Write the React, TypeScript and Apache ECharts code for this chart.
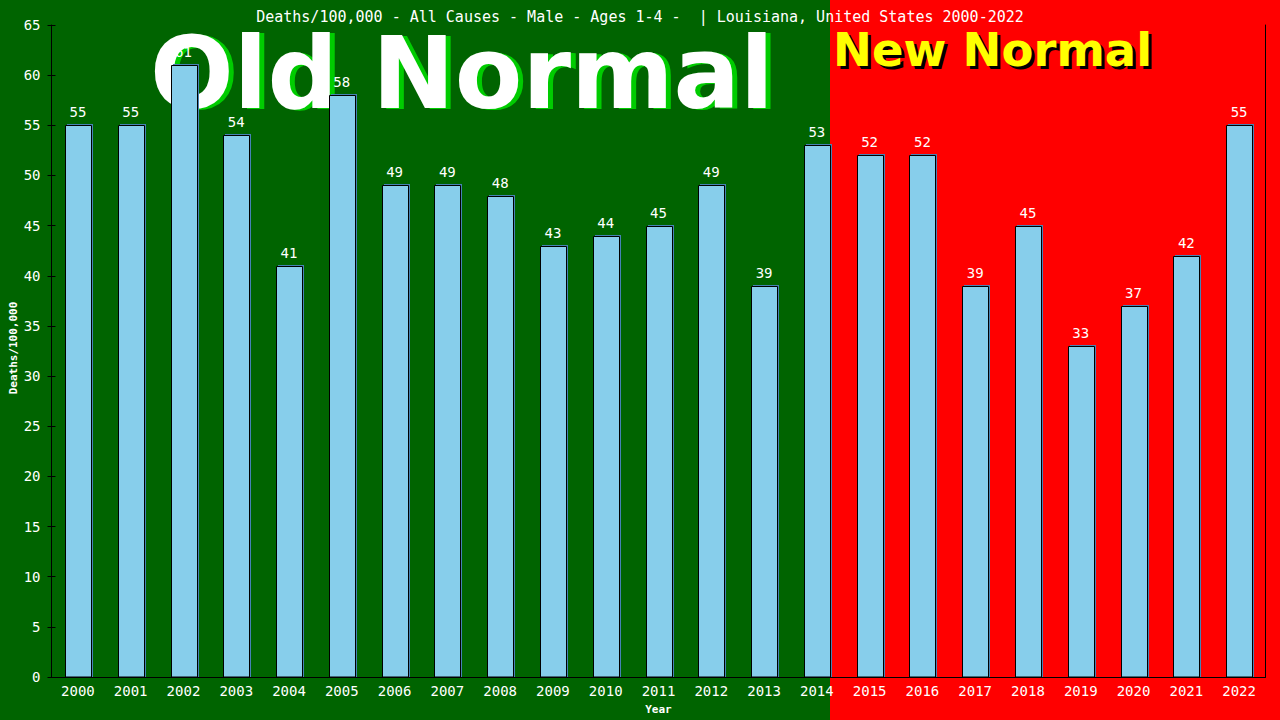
import React, { useEffect, useRef } from "react";
import * as echarts from "echarts";

const years = ["2000","2001","2002","2003","2004","2005","2006","2007","2008","2009","2010","2011","2012","2013","2014","2015","2016","2017","2018","2019","2020","2021","2022"];
const deaths = [55, 55, 61, 54, 41, 58, 49, 49, 48, 43, 44, 45, 49, 39, 53, 52, 52, 39, 45, 33, 37, 42, 55];
const titleText = "Deaths/100,000 - All Causes - Male - Ages 1-4 -  | Louisiana, United States 2000-2022";
const yAxisTitle = "Deaths/100,000";
const yMin = 0;
const yMax = 65;
const yStep = 5;

const MONO = "'DejaVu Sans Mono', 'Liberation Mono', monospace";
const BIG = "'DejaVu Sans', Verdana, sans-serif";

export default function App() {
  const ref = useRef<HTMLDivElement>(null);
  useEffect(() => {
    if (!ref.current) return;
    const chart = echarts.init(ref.current, null, { renderer: "svg" });
    const data = deaths.map((v, i) => [i, v]);
    chart.setOption({
      animation: false,
      backgroundColor: "#ff0000",
      title: {
        text: titleText,
        left: "center",
        top: 4,
        textStyle: { color: "#ffffff", fontSize: 15, fontWeight: "normal", fontFamily: MONO },
      },
      grid: { left: 51.5, right: 14.5, top: 25, bottom: 43, containLabel: false, outerBoundsMode: "none" },
      graphic: [
        { type: "rect", z: -20, shape: { x: 0, y: 0, width: 830, height: 720 }, style: { fill: "#006400" } },
        { type: "text", z: -10, x: 155, y: 124, scaleX: 0.985, style: { text: "Old Normal", fill: "#00cc00", font: `bold 100px ${BIG}`, textAlign: "left", textVerticalAlign: "bottom" } },
        { type: "text", z: -9, x: 150, y: 123, scaleX: 0.985, style: { text: "Old Normal", fill: "#ffffff", font: `bold 100px ${BIG}`, textAlign: "left", textVerticalAlign: "bottom" } },
        { type: "text", z: -10, x: 836, y: 76, style: { text: "New Normal", fill: "#000000", font: `bold 46.5px ${BIG}`, textAlign: "left", textVerticalAlign: "bottom" } },
        { type: "text", z: -9, x: 833, y: 73, style: { text: "New Normal", fill: "#ffff00", font: `bold 46.5px ${BIG}`, textAlign: "left", textVerticalAlign: "bottom" } },
        { type: "text", z: 5, x: 13, y: 348, rotation: Math.PI / 2, style: { text: yAxisTitle, fill: "#ffffff", font: `bold 11px ${MONO}`, textAlign: "center", textVerticalAlign: "middle" } },
      ],
      xAxis: {
        type: "category",
        data: years,
        name: "Year",
        nameLocation: "middle",
        nameGap: 27,
        nameTextStyle: { color: "#ffffff", fontSize: 11, fontWeight: "bold", fontFamily: MONO },
        axisLine: { show: true, lineStyle: { color: "#000000", width: 1 } },
        axisTick: { show: false },
        axisLabel: { color: "#ffffff", fontSize: 14, fontFamily: MONO, margin: 7 },
        splitLine: { show: false },
      },
      yAxis: [
        {
          type: "value",
          min: yMin,
          max: yMax,
          interval: yStep,
          position: "left",
          axisLine: { show: true, lineStyle: { color: "#000000", width: 1 } },
          axisTick: { show: true, length: 4, lineStyle: { color: "#000000" } },
          axisLabel: { color: "#ffffff", fontSize: 14, fontFamily: MONO, margin: 11 },
          splitLine: { show: false },
        },
        {
          type: "value",
          min: yMin,
          max: yMax,
          interval: yStep,
          position: "left",
          offset: 0,
          axisLine: { show: false },
          axisTick: { show: true, inside: true, length: 4, lineStyle: { color: "#000000" } },
          axisLabel: { show: false },
          splitLine: { show: false },
        },
        {
          type: "value",
          min: yMin,
          max: yMax,
          interval: yStep,
          position: "right",
          axisLine: { show: true, lineStyle: { color: "#000000", width: 1 } },
          axisTick: { show: false },
          axisLabel: { show: false },
          splitLine: { show: false },
        },
      ],
      series: [
        {
          type: "custom",
          yAxisIndex: 0,
          data,
          renderItem: (params: any, api: any) => {
            const idx = api.value(0);
            const v = api.value(1);
            const top = api.coord([idx, v]);
            const base = api.coord([idx, 0]);
            const w = api.size([1, 0])[0] * 0.49;
            const x0 = Math.round(top[0] - w / 2) + 0.5;
            const y0 = Math.round(top[1]) + 0.5;
            const h = base[1] - y0;
            return {
              type: "group",
              children: [
                { type: "rect", shape: { x: x0 + 1.5, y: y0 - 1.5, width: Math.round(w), height: h + 1.5 }, style: { fill: "#4682B4" } },
                { type: "rect", shape: { x: x0, y: y0, width: Math.round(w), height: h }, style: { fill: "#87CEEB", stroke: "#000000", lineWidth: 1 } },
                { type: "text", style: { text: String(v), x: top[0], y: top[1] - 6, align: "center", verticalAlign: "bottom", fill: "#ffffff", font: `14px ${MONO}` } },
              ],
            };
          },
        },
      ],
    });
    return () => chart.dispose();
  }, []);
  return <div ref={ref} style={{ position: "fixed", left: 0, top: 0, width: 1280, height: 720 }} />;
}
